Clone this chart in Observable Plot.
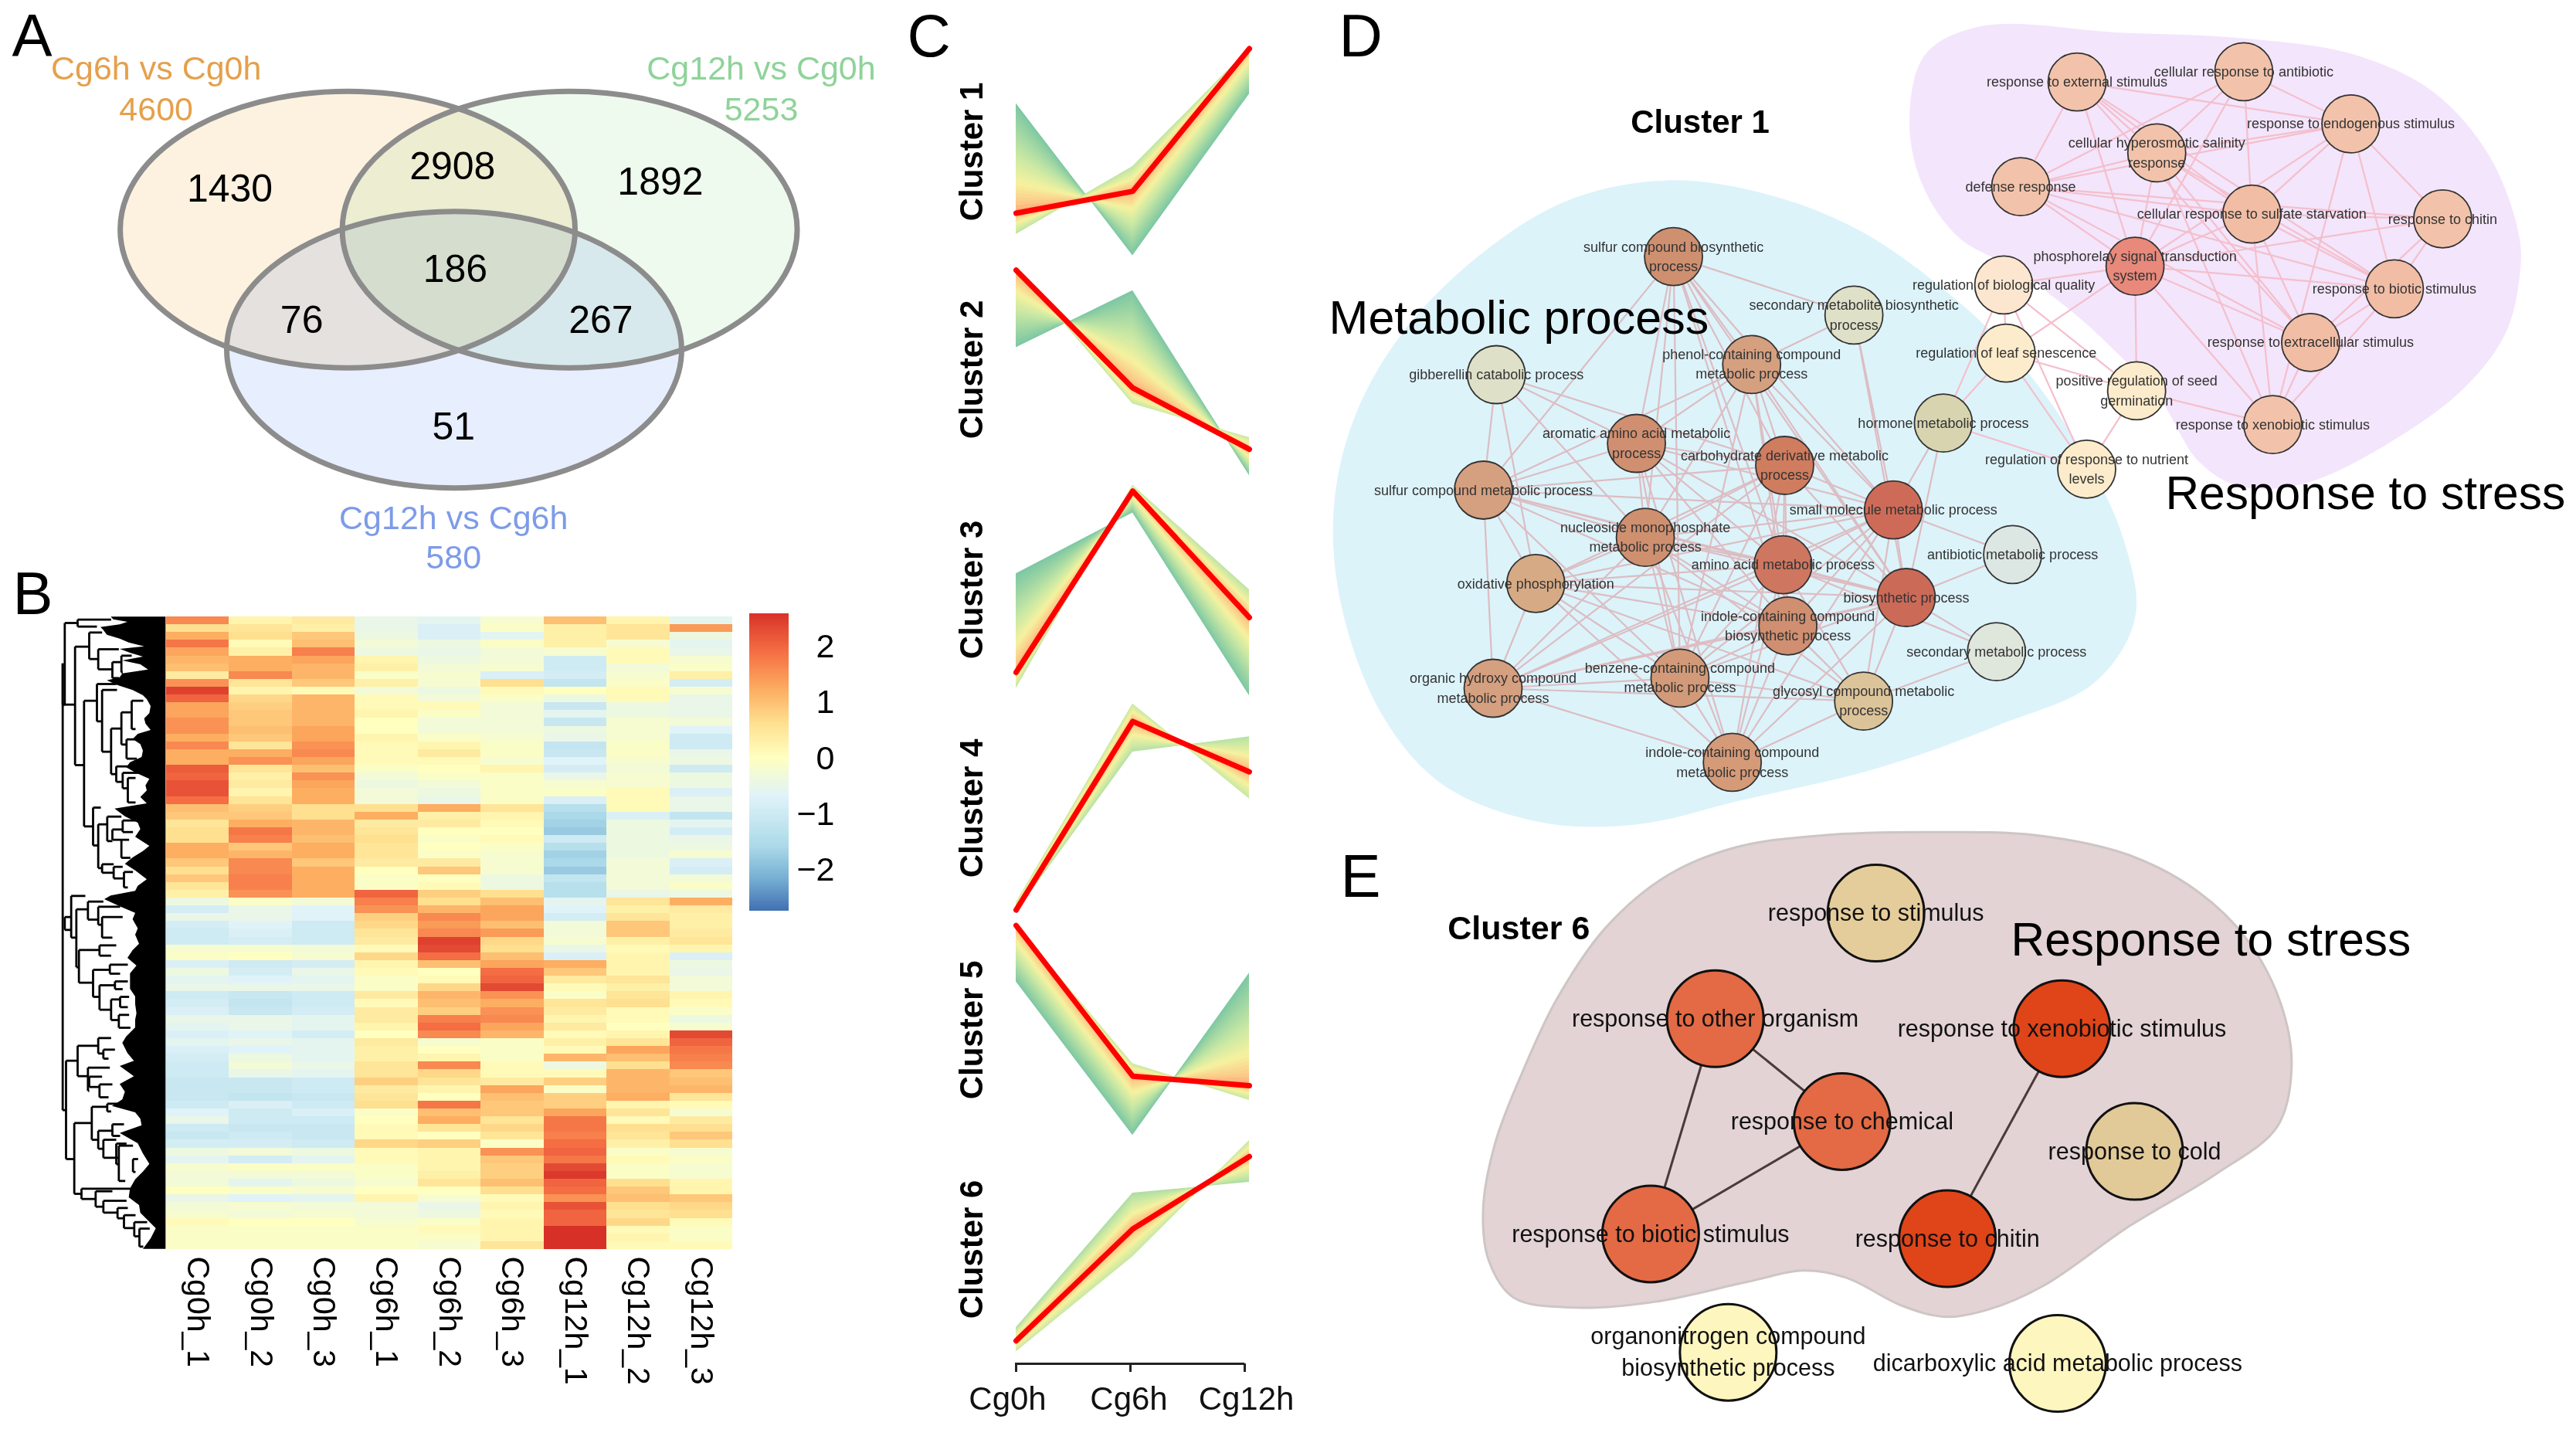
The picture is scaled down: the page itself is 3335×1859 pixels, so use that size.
<!DOCTYPE html>
<html><head><meta charset="utf-8">
<script src="https://cdn.jsdelivr.net/npm/d3@7"></script>
<script src="https://cdn.jsdelivr.net/npm/@observablehq/plot@0.6"></script>
<style>
html,body{margin:0;padding:0;background:#fff}
#page{position:relative;width:3335px;height:1859px;overflow:hidden;background:#fff;font-family:"Liberation Sans",Arial,sans-serif}
#page>div{position:absolute}
</style></head><body><div id="page"></div>
<script>
const FONT='"Liberation Sans",Arial,sans-serif';

// ---------- A: Venn ----------
const vennSets=["Cg6h vs Cg0h","Cg12h vs Cg0h","Cg12h vs Cg6h"];
const vennTotals=[4600,5253,580];
const vennColors=["#e5a04c","#8fd39a","#7d9be8"];
const vennFills=["#fdf2e0","#eefaee","#e7eefd"];
const vennCX=[613,1005,801], vennCY=[612,612,933];
const vennLabelX=[275,1343,800], vennLabelY=[183,183,1383], vennTotalY=[292,292,1490];
const vennCounts=[1430,2908,1892,186,76,267,51];
const vennCountX=[405,798,1165,803,532,1060,800], vennCountY=[505,445,485,718,855,855,1140];

// ---------- B: heatmap ----------
const sampleNames=["Cg0h_1","Cg0h_2","Cg0h_3","Cg6h_1","Cg6h_2","Cg6h_3","Cg12h_1","Cg12h_2","Cg12h_3"];
const heatRows=[
[1.6,.2,.4,-.5,-.6,-.2,1.0,.2,-.6],[.6,.5,.3,-.5,-.8,-.1,.3,.5,1.4],[1.2,.6,.9,-.4,-.8,-.6,.3,.5,-.4],[1.8,.1,1.0,-.3,-.4,-.1,.3,-.2,-.6],
[1.3,.3,1.7,-.4,-.5,-.3,-.2,.1,-.5],[1.1,1.2,1.3,.2,-.4,-.3,-1.0,.1,-.2],[1.0,1.2,1.1,.3,-.3,-.2,-1.0,-.3,-.1],[.4,1.6,1.1,-.1,-.2,-.8,-.9,-.2,.3],
[1.5,.5,.9,.3,-.2,.6,-1.2,-.1,-.9],[2.4,.2,.1,-.3,-.4,.1,0,.1,-.2],[2.0,.7,1.1,.1,-.3,-.1,-.4,.1,-.5],[1.3,.8,1.1,.1,.1,-.3,-1.1,-.4,-.5],
[1.3,.9,1.1,.2,-.1,-.3,-.6,-.4,-.5],[1.5,.9,1.1,0,-.3,-.3,-1.1,-.2,-.3],[1.5,1.0,1.3,0,-.3,-.3,-.4,-.2,-.7],[1.2,.9,1.3,.2,-.1,-.2,-.5,-.2,-1.0],
[1.6,.5,1.5,.1,.2,-.1,-1.2,-.1,-1.0],[1.2,1.2,1.6,.1,.4,-.1,-1.1,-.1,-.5],[1.2,1.5,1.3,.1,.1,-.2,-.7,-.2,-.4],[2.1,.5,1.0,-.1,0,.2,-.9,-.3,-1.0],
[2.0,.3,1.5,-.3,-.1,-.1,-.5,-.2,-.4],[2.2,.4,1.3,-.4,-.3,-.1,-.2,-.2,-.4],[2.2,.2,1.2,-.3,-.4,-.1,-.1,.1,-.8],[1.9,.5,1.2,-.3,-.5,-.1,-.8,.1,-.5],
[1.0,.8,.6,.6,1.2,.5,-1.4,.1,-.5],[.9,.9,.6,1.2,.3,.2,-1.6,-.8,-1.2],[.5,1.2,1.1,.4,.4,.1,-1.7,-.4,-.6],[.6,1.8,1.1,.5,0,0,-1.8,-.4,-.9],
[.6,1.7,1.0,.6,-.1,.1,-1.0,-.4,-.5],[1.2,.9,1.2,.5,0,-.1,-1.4,-.4,-.4],[1.2,1.1,1.2,.5,-.1,-.2,-1.7,-.4,-.2],[.9,1.6,.9,.4,.4,-.2,-1.6,-.3,-.8],
[.6,1.6,1.2,0,.9,-.2,-1.8,-.3,-.9],[.9,1.7,1.2,-.1,0,-.4,-1.2,-.3,-.3],[.5,1.7,1.2,-.1,.1,-.4,-1.4,-.3,-.1],[.3,1.5,1.2,2.0,.8,.6,-1.4,-.5,-.4],
[-.4,-.1,-.3,1.7,.6,1.0,-.6,.5,1.2],[-.9,-.5,-.7,1.5,1.1,1.3,-.7,.3,.4],[-.5,-.5,-.7,.8,1.6,1.3,-.9,.5,.3],[-.9,-.7,-1.0,.7,1.4,1.0,-.3,.9,.3],
[-1.0,-.8,-1.0,.5,1.6,1.4,-.3,.9,.4],[-1.0,-.9,-1.0,.4,2.4,.7,-.2,.3,.5],[-.2,-.2,-.3,.1,2.3,.6,-.5,.1,.2],[-.1,0,-.2,.7,1.9,1.0,-.8,.2,-.8],
[-.8,-1.0,-.9,.2,1.0,1.3,1.2,.2,-.4],[-.4,-.9,-.5,.1,0,1.9,.9,.2,-.5],[-.6,-.7,-.6,-.1,.1,2.0,.4,.5,-.3],[-.5,-.5,-.5,-.1,.7,2.3,.1,.3,-.3],
[-1.0,-1.1,-1.0,.4,1.1,1.5,-.1,.5,.2],[-.9,-1.2,-1.0,.1,1.0,1.2,.5,.6,.1],[-.8,-1.1,-.9,.4,.8,1.5,.4,.1,-.1],[-.5,-.5,-.6,.4,1.7,1.6,.2,.1,-.4],
[-.6,-.5,-.6,.2,1.9,1.3,.4,0,-.2],[-.8,-.7,-.9,0,1.6,1.1,.1,.2,2.3],[-.6,-.5,-.6,.4,-.2,-.1,.3,.5,2.0],[-.8,-.7,-.6,.3,0,-.1,.1,1.3,1.8],
[-.9,-.4,-.6,.3,.2,-.1,1.1,1.0,1.7],[-1.0,-.3,-.5,.5,1.6,.1,-.4,.6,1.6],[-1.0,-.5,-.6,.5,.7,.1,.1,1.1,.9],[-1.1,-1.1,-1.0,.8,.5,.4,.8,1.1,1.0],
[-1.1,-1.1,-1.0,.4,.2,1.3,-.1,1.1,1.1],[-1.1,-1.2,-1.1,.5,0,1.0,.8,1.2,.5],[-1.0,-.8,-1.0,.6,1.8,.9,.8,.2,.1],[-.7,-1.0,-.8,-.1,1.0,.9,1.3,.5,-.2],
[-.5,-1.0,-1.0,0,1.2,.5,1.8,.1,.4],[-1.0,-1.1,-1.1,.1,.5,.7,1.8,.6,.6],[-1.1,-1.0,-1.1,.1,0,.5,1.7,.5,.9],[-.9,-.9,-1.0,.7,.8,-.1,1.9,.3,.6],
[-.4,-.3,-.4,.1,.2,1.5,2.0,-.1,-.2],[-.6,-.9,-.6,.1,.2,.9,1.8,.1,-.1],[-.2,-.1,-.1,-.1,.2,.8,2.3,-.1,-.2],[-.3,-.3,-.3,-.1,.3,.8,2.5,-.1,-.2],
[-.3,-.6,-.4,-.2,.5,1.0,2.0,.6,.2],[0,-.1,-.2,0,0,.6,1.9,.9,.2],[-.5,-.7,-.6,.2,-.2,.1,1.5,1.0,.9],[-.3,-.2,-.3,-.3,-.5,.2,2.2,.6,.7],
[-.2,-.3,-.2,-.3,-.4,.1,2.0,.5,.6],[.1,0,0,-.2,-.1,.2,2.0,.7,.1],[-.1,-.1,-.1,-.1,.1,.2,2.6,.1,-.1],[-.1,-.1,-.1,-.1,-.1,.2,2.6,.2,-.1],
[-.1,-.1,-.1,-.1,-.2,.5,2.6,.1,.1]
];
const heatBreaks=[-2.7,-2.2,-1.6,-.7,0,.6,1.2,1.9,2.6];
const heatColors=["#4575b4","#74add1","#abd9e9","#e0f3f8","#ffffbf","#fee090","#fdae61","#f46d43","#d73027"];
const colorbarTicks=[-2,-1,0,1,2];
// dendrogram brackets: [height, top, bottom, topChildHeight, bottomChildHeight]
const dendroBrackets=[
[17,205,1940,17,30],[17,205,365,17,65],[25,48,365,75,17],[75,35,62,205,150],[65,140,600,120,100],[120,85,188,170,155],[155,150,228,235,210],[210,200,262,245,235],[245,175,240,285,250],
[100,350,838,150,135],[150,285,430,225,170],[170,308,548,228,205],[205,458,635,245,225],[245,395,520,285,265],[285,350,460,330,300],[265,500,575,300,305],[225,605,665,270,250],[250,630,690,320,270],[270,650,745,300,300],
[135,765,912,165,155],[155,830,1000,190,170],[190,800,895,245,210],[210,850,890,250,245],[250,815,860,300,290],[245,890,960,275,280],[170,985,1018,215,215],[215,995,1040,250,255],[255,1015,1075,290,270],
[50,1108,1270,105,70],[25,1190,1240,50,50],[70,1160,1385,115,80],[115,1130,1200,175,155],[155,1150,1220,240,170],[170,1190,1270,250,210],
[80,1318,1445,160,135],[160,1300,1340,225,205],[135,1395,1500,200,160],[200,1375,1410,270,240],[160,1455,1550,220,205],[220,1440,1470,270,250],[205,1510,1590,240,235],[240,1500,1540,275,270],[235,1570,1620,275,280],
[30,1748,2130,75,62],[75,1690,1808,155,115],[155,1660,1720,205,175],[175,1705,1740,220,195],[115,1775,1865,200,120],[120,1810,1850,170,160],[160,1840,1890,210,195],
[62,1990,2265,130,90],[130,1927,2055,190,155],[190,1915,1945,260,205],[155,2020,2090,210,175],[210,1995,2040,255,240],[175,2055,2125,225,235],[225,2070,2150,265,235],[235,2078,2215,290,260],[290,2130,2180,310,300],
[90,2245,2285,280,145],[145,2255,2315,210,175],[175,2292,2338,265,230],[230,2320,2360,270,255],[255,2348,2398,300,295],[295,2375,2430,345,315],[315,2400,2470,355,330]
];
const dendroEdgeY=[25,35,45,55,65,75,95,110,125,140,150,165,180,195,210,230,245,260,272,290,310,330,345,372,400,420,440,465,480,500,520,545,570,590,610,630,655,680,700,725,750,770,785,800,825,850,880,915,935,960,985,1010,1045,1070,1090,1108,1122,1150,1175,1200,1235,1260,1295,1320,1350,1380,1410,1440,1470,1500,1530,1565,1590,1620,1640,1655,1680,1720,1750,1770,1810,1840,1870,1900,1925,1950,1975,2000,2030,2070,2110,2150,2180,2210,2245,2280,2310,2340,2370,2400,2440,2480];
const dendroEdgeX=[205,215,270,240,165,175,190,240,275,335,240,280,330,250,320,350,250,240,190,230,290,330,345,360,355,335,340,360,310,290,320,330,325,280,265,300,355,340,345,320,345,220,240,260,310,320,300,355,330,290,260,300,345,310,300,205,180,240,300,290,310,300,315,290,270,305,280,280,280,300,300,305,300,300,280,265,250,270,295,240,295,240,260,250,210,300,320,325,240,310,330,355,330,300,280,275,315,320,350,380,360,330];

// ---------- C: clusters ----------
const stages=["Cg0h","Cg6h","Cg12h"];
const clusterNames=["Cluster 1","Cluster 2","Cluster 3","Cluster 4","Cluster 5","Cluster 6"];
const clusterCore=[[-.84,-.54,1.41],[1.36,-.25,-1.09],[-1.13,1.35,-.38],[-1.39,1.19,.50],[1.43,-.63,-.76],[-1.25,.28,1.27]];
const clusterEdgeA=[[.66,-1.42,.79],[.30,1.08,-1.45],[.22,1.05,-1.45],[-1.42,.77,.98],[.66,-1.44,.78],[-1.07,.77,.92]];
const clusterEdgeB=[[-1.13,-.20,1.41],[1.40,-.47,-.93],[-1.35,1.43,0],[-1.29,1.43,.13],[1.43,-.46,-.96],[-1.40,-.10,1.49]];
const membershipA=[0,0,0,.35,0,.3];
const membershipB=[.4,.45,.4,.45,.45,.45];
const clusterTops=[54,336,621,904,1191,1475];

// ---------- D: network ----------
const dNames=["response to external stimulus","cellular response to antibiotic","response to endogenous stimulus","cellular hyperosmotic salinity\nresponse","defense response","cellular response to sulfate starvation","response to chitin","phosphorelay signal transduction\nsystem","response to biotic stimulus","response to extracellular stimulus","response to xenobiotic stimulus","regulation of biological quality","regulation of leaf senescence","positive regulation of seed\ngermination","regulation of response to nutrient\nlevels",
"sulfur compound biosynthetic\nprocess","secondary metabolite biosynthetic\nprocess","gibberellin catabolic process","phenol-containing compound\nmetabolic process","aromatic amino acid metabolic\nprocess","carbohydrate derivative metabolic\nprocess","hormone metabolic process","sulfur compound metabolic process","small molecule metabolic process","nucleoside monophosphate\nmetabolic process","antibiotic metabolic process","amino acid metabolic process","oxidative phosphorylation","biosynthetic process","indole-containing compound\nbiosynthetic process","secondary metabolic process","organic hydroxy compound\nmetabolic process","benzene-containing compound\nmetabolic process","glycosyl compound metabolic\nprocess","indole-containing compound\nmetabolic process"];
const dX=[948,1155,1288,1047,878,1165,1402,1020,1342,1238,1191,857,860,1022,960,447,671,227,544,401,585,782,211,720,412,868,583,276,736,589,848,223,455,683,520];
const dY=[152,133,230,284,347,398,407,495,537,637,790,530,657,727,873,477,586,697,678,825,866,787,912,949,1000,1032,1051,1086,1112,1165,1213,1281,1262,1305,1419];
const dFill=["#f2c3aa","#f2c3aa","#f2c3aa","#f2c3aa","#f2c3aa","#f2bda5","#f2c3aa","#e8897b","#f2bda5","#f2bda5","#f2c3aa","#fde6d0","#fdeccb","#fdeccb","#fdeccb",
"#cf9070","#dfe0c8","#dfe0c8","#d5a080","#cf8f70","#cf7c5f","#d8d4b0","#d5a080","#ce6b58","#cf9070","#dce7e4","#cf7660","#d6aa84","#cc6a58","#cf8f70","#dfe6dc","#d5a080","#d29a78","#dcc49a","#d59a78"];
const dEdgesStress=[[1,3],[1,4],[1,5],[1,6],[1,9],[1,10],[1,8],[2,5],[2,4],[2,6],[2,8],[2,3],[3,4],[3,5],[3,6],[3,8],[3,9],[3,7],[3,11],[4,5],[4,6],[4,8],[4,9],[4,10],[4,11],[5,6],[5,8],[5,7],[5,9],[5,10],[6,7],[6,8],[6,9],[6,10],[6,11],[7,8],[7,9],[7,10],[8,9],[8,10],[8,11],[8,12],[8,13],[8,14],[9,10],[9,11],[10,11],[12,13],[12,14],[12,15],[13,14],[13,15],[14,15],[14,11],[13,22],[12,22],[22,15]];
const dEdgesMetab=[[16,19],[16,20],[16,23],[16,21],[16,25],[16,24],[16,27],[16,29],[16,30],[16,17],[16,33],[17,24],[17,29],[17,19],[18,20],[18,23],[18,25],[18,28],[18,21],[19,20],[19,21],[19,24],[19,27],[19,23],[19,29],[19,33],[19,25],[19,30],[20,21],[20,23],[20,25],[20,27],[20,29],[20,30],[20,33],[20,35],[20,24],[21,23],[21,24],[21,25],[21,27],[21,28],[21,29],[21,32],[21,33],[21,35],[21,30],[22,24],[22,29],[23,25],[23,27],[23,28],[23,29],[23,30],[23,32],[23,33],[23,24],[24,25],[24,27],[24,26],[24,28],[24,29],[24,30],[24,32],[24,33],[24,34],[24,35],[25,27],[25,28],[25,29],[25,30],[25,32],[25,33],[25,34],[25,35],[26,29],[27,28],[27,29],[27,30],[27,31],[27,32],[27,33],[27,34],[27,35],[28,29],[28,30],[28,32],[28,33],[28,35],[28,34],[29,30],[29,31],[29,32],[29,33],[29,34],[29,35],[30,32],[30,33],[30,34],[30,35],[31,34],[32,33],[32,34],[32,35],[33,34],[33,35],[34,35]];
const blobMetabX=[440,560,680,800,880,950,1005,1020,970,850,700,530,400,280,160,85,35,25,50,110,210,320];
const blobMetabY=[335,360,430,560,680,830,1000,1150,1270,1350,1430,1490,1535,1530,1460,1330,1130,950,780,620,470,370];
const blobStressX=[830,1000,1150,1290,1390,1460,1497,1497,1480,1430,1340,1230,1150,1100,1050,1000,950,870,800,755,740,760];
const blobStressY=[48,60,70,100,170,290,440,520,620,720,820,900,905,860,740,660,590,500,440,340,220,100];

// ---------- E: network ----------
const eNames=["response to stimulus","response to other organism","response to xenobiotic stimulus","response to chemical","response to cold","response to biotic stimulus","response to chitin","organonitrogen compound\nbiosynthetic process","dicarboxylic acid metabolic process"];
const eX=[788,527,1090,733,1208,422,904,548,1083];
const eY=[255,520,545,778,853,1060,1072,1357,1385];
const eFill=["#e5cd9b","#e36a44","#e04419","#e36a44","#e2c998","#e36a44","#e04419","#fdf6bf","#fdf6bf"];
const eEdges=[[2,4],[2,6],[4,6],[3,7]];
const blobEX=[870,1050,1200,1310,1390,1445,1463,1440,1340,1200,1060,970,900,830,740,670,580,430,300,200,160,150,170,215,270,350,450,560,700];
const blobEY=[52,60,110,200,320,480,640,790,910,1040,1190,1250,1268,1240,1170,1152,1180,1230,1245,1220,1130,1000,830,650,470,290,160,90,60];

// ---------- helpers ----------
const page=document.getElementById("page");
function panel(left,top,width,height,opts){
  const svg=Plot.plot({width,height,marginTop:0,marginRight:0,marginBottom:0,marginLeft:0,
    style:{background:"transparent",overflow:"visible",maxWidth:"none",fontFamily:FONT},...opts});
  const d=document.createElement("div");d.style.left=left+"px";d.style.top=top+"px";d.style.width=width+"px";d.style.height=height+"px";
  d.appendChild(svg);page.appendChild(d);
}
const layout=(w,h)=>({x:{domain:[0,1568],range:[0,w],axis:null},y:{domain:[0,1568],range:[0,h],axis:null}});
const pts=(xs,ys)=>xs.map((x,i)=>({x,y:ys[i]}));
const idx=a=>a.map((_,i)=>i);

// A
const VENN_R=179, VENN_RATIO=1.645;
const wideEllipse={draw(c,size){const r=Math.sqrt(size/Math.PI),a=r*VENN_RATIO,b=r,k=.5523;
  c.moveTo(a,0);c.bezierCurveTo(a,b*k,a*k,b,0,b);c.bezierCurveTo(-a*k,b,-a,b*k,-a,0);c.bezierCurveTo(-a,-b*k,-a*k,-b,0,-b);c.bezierCurveTo(a*k,-b,a,-b*k,a,0);c.closePath();}};
const vennSetIdx=idx(vennSets);
panel(0,0,1150,760,{...layout(1150,760),marks:[
  ...vennSetIdx.map(i=>Plot.dot([i],{x:d=>vennCX[d],y:d=>vennCY[d],r:VENN_R,symbol:wideEllipse,fill:vennFills[i],stroke:"none",mixBlendMode:"multiply"})),
  Plot.dot(vennSetIdx,{x:d=>vennCX[d],y:d=>vennCY[d],r:VENN_R,symbol:wideEllipse,fill:"none",stroke:"#8c8c8c",strokeWidth:7}),
  Plot.text(vennSetIdx,{x:d=>vennLabelX[d],y:d=>vennLabelY[d],text:d=>vennSets[d],fill:d=>vennColors[d],fontSize:43}),
  Plot.text(vennSetIdx,{x:d=>vennLabelX[d],y:d=>vennTotalY[d],text:d=>String(vennTotals[d]),fill:d=>vennColors[d],fontSize:43}),
  Plot.text(idx(vennCounts),{x:d=>vennCountX[d],y:d=>vennCountY[d],text:d=>String(vennCounts[d]),fill:"#000",fontSize:50})
]});

// B dendrogram
const dendroSegs=dendroBrackets.flatMap(([h,a,b,ca,cb])=>[{x1:h,y1:a,x2:h,y2:b},{x1:h,y1:a,x2:ca,y2:a},{x1:h,y1:b,x2:cb,y2:b}]);
panel(75,790,145,835,{x:{domain:[0,435],range:[0,145],axis:null},y:{domain:[0,2505],range:[0,835],axis:null},marks:[
  Plot.areaX(pts(dendroEdgeX,dendroEdgeY),{x1:"x",x2:()=>418,y:"y",fill:"#000"}),
  Plot.link(dendroSegs,{x1:"x1",y1:"y1",x2:"x2",y2:"y2",stroke:"#000",strokeWidth:2.8})
]});
// B heatmap
const heatCells=heatRows.flatMap((r,i)=>r.map((v,j)=>({row:i,col:sampleNames[j],value:v})));
const heatColor={type:"linear",domain:heatBreaks,range:heatColors};
panel(215,798,733,1029,{marginBottom:210,x:{domain:sampleNames,padding:0,round:false,axis:null},y:{domain:idx(heatRows),padding:0,round:false,axis:null},color:heatColor,marks:[
  Plot.cell(heatCells,{x:"col",y:"row",fill:"value",shapeRendering:"crispEdges"}),
  Plot.axisX({anchor:"bottom",tickRotate:90,tickSize:0,tickPadding:9,fontSize:41,fill:"#000",label:null})
]});
// colour bar
const barSteps=d3.range(-2.73,2.59,.04);
panel(970,794,120,385,{marginRight:69,x:{domain:[0,1],axis:null},y:{domain:[-2.73,2.59],axis:null},color:heatColor,marks:[
  Plot.rect(barSteps,{x1:()=>0,x2:()=>1,y1:d=>d,y2:d=>d+.045,fill:d=>d,shapeRendering:"crispEdges"}),
  Plot.axisY(colorbarTicks,{anchor:"right",tickSize:0,tickPadding:0,textAnchor:"end",dx:59,fontSize:43,fill:"#000",label:null,tickFormat:d=>String(d).replace("-","\u2212")})
]});

// C fans
const ramp=d3.scaleLinear().domain([0,.45,.7,.9,1]).range(["#7fc8a3","#c9e8a4","#f5f2a0","#fbc987","#fb9a72"]);
const FAN_LEVELS=d3.range(0,28).map(l=>l/28);
clusterNames.forEach((name,ci)=>{
  const core=clusterCore[ci];
  const fan=(edge,base,tag)=>FAN_LEVELS.flatMap(s=>stages.map((st,j)=>({stage:st,y1:edge[j]+(core[j]-edge[j])*s,y2:core[j],level:tag+s,tone:ramp(base+(1-base)*s)})));
  const fanA=fan(clusterEdgeA[ci],membershipA[ci],"A"), fanB=fan(clusterEdgeB[ci],membershipB[ci],"B");
  panel(1314,clusterTops[ci],303,284,{x:{type:"point",domain:stages,range:[0,303],padding:0,axis:null},y:{domain:[-1.5,1.5],range:[284,0],axis:null},marks:[
    Plot.areaY(fanA,{x:"stage",y1:"y1",y2:"y2",z:"level",fill:"tone"}),
    Plot.areaY(fanB,{x:"stage",y1:"y1",y2:"y2",z:"level",fill:"tone"}),
    Plot.line(stages.map((st,j)=>({stage:st,v:core[j]})),{x:"stage",y:"v",stroke:"#ff0000",strokeWidth:7}),
    Plot.text([name],{frameAnchor:"left",textAnchor:"middle",dx:-56,rotate:-90,text:d=>d,fontWeight:"bold",fontSize:42,fill:"#000"})
  ]});
});
// C axis
panel(1314,1765,297,70,{x:{type:"point",domain:stages,range:[0,297],padding:0,axis:null},y:{domain:[0,70],range:[0,70],axis:null},marks:[
  Plot.ruleY([0],{stroke:"#222",strokeWidth:3}),
  Plot.ruleX(stages,{x:d=>d,y1:()=>0,y2:()=>11,stroke:"#222",strokeWidth:3}),
  ...stages.map((st,i)=>Plot.text([st],{x:d=>d,y:()=>46,text:d=>d,dx:[-11,-2,2][i],fontSize:42,fill:"#111"}))
]});

// D
const dIdx=idx(dNames);
const dLink=e=>({x1:dX[e[0]-1],y1:dY[e[0]-1],x2:dX[e[1]-1],y2:dY[e[1]-1]});
panel(1700,0,1635,1090,{...layout(1635,1090),marks:[
  Plot.line(pts(blobMetabX,blobMetabY),{x:"x",y:"y",curve:"catmull-rom-closed",fill:"#dcf3fa",stroke:"none"}),
  Plot.line(pts(blobStressX,blobStressY),{x:"x",y:"y",curve:"catmull-rom-closed",fill:"#f3e5fb",stroke:"none"}),
  Plot.link(dEdgesMetab.map(dLink),{x1:"x1",y1:"y1",x2:"x2",y2:"y2",stroke:"#dcbdc2",strokeWidth:2.2}),
  Plot.link(dEdgesStress.map(dLink),{x1:"x1",y1:"y1",x2:"x2",y2:"y2",stroke:"#f4bfcc",strokeWidth:2.2}),
  Plot.dot(dIdx,{x:d=>dX[d],y:d=>dY[d],r:37.5,fill:d=>dFill[d],stroke:"#333",strokeWidth:1.8}),
  Plot.text(dIdx,{x:d=>dX[d],y:d=>dY[d],dy:-2,text:d=>dNames[d],fontSize:18,lineHeight:1.4,fill:"#333"}),
  Plot.text(["Cluster 1"],{x:()=>480,y:()=>228,text:d=>d,fontWeight:"bold",fontSize:42,fill:"#000"}),
  Plot.text(["Metabolic process"],{x:()=>255,y:()=>592,text:d=>d,fontSize:61,fill:"#000"}),
  Plot.text(["Response to stress"],{x:()=>1306,y:()=>920,text:d=>d,fontSize:60.5,fill:"#000"})
]});

// E
const eIdx=idx(eNames);
const eLink=e=>({x1:eX[e[0]-1],y1:eY[e[0]-1],x2:eX[e[1]-1],y2:eY[e[1]-1]});
panel(1800,1050,1250,809,{...layout(1250,809),marks:[
  Plot.line(pts(blobEX,blobEY),{x:"x",y:"y",curve:"catmull-rom-closed",fill:"#e3d3d4",stroke:"#cdc6c4",strokeWidth:3}),
  Plot.link(eEdges.map(eLink),{x1:"x1",y1:"y1",x2:"x2",y2:"y2",stroke:"#4a3a3a",strokeWidth:3}),
  Plot.dot(eIdx,{x:d=>eX[d],y:d=>eY[d],r:62.5,fill:d=>eFill[d],stroke:"#111",strokeWidth:3}),
  Plot.text(eIdx,{x:d=>eX[d],y:d=>eY[d],dy:-3,text:d=>eNames[d],fontSize:30.5,lineHeight:1.35,fill:"#111"}),
  Plot.text(["Cluster 6"],{x:()=>208,y:()=>295,text:d=>d,fontWeight:"bold",fontSize:43,fill:"#000"}),
  Plot.text(["Response to stress"],{x:()=>1332,y:()=>324,text:d=>d,fontSize:60.5,fill:"#000"})
]});

// panel letters
const panelLetters=["A","B","C","D","E"], letterX=[15,16,1174,1733,1735], letterY=[72,794,72,72,1160];
panel(0,0,3335,1859,{x:{domain:[0,3335],range:[0,3335],axis:null},y:{domain:[0,1859],range:[0,1859],axis:null},marks:[
  Plot.text(idx(panelLetters),{x:d=>letterX[d],y:d=>letterY[d],text:d=>panelLetters[d],textAnchor:"start",lineAnchor:"bottom",fontSize:78,fill:"#000"})
]});
</script></body></html>
